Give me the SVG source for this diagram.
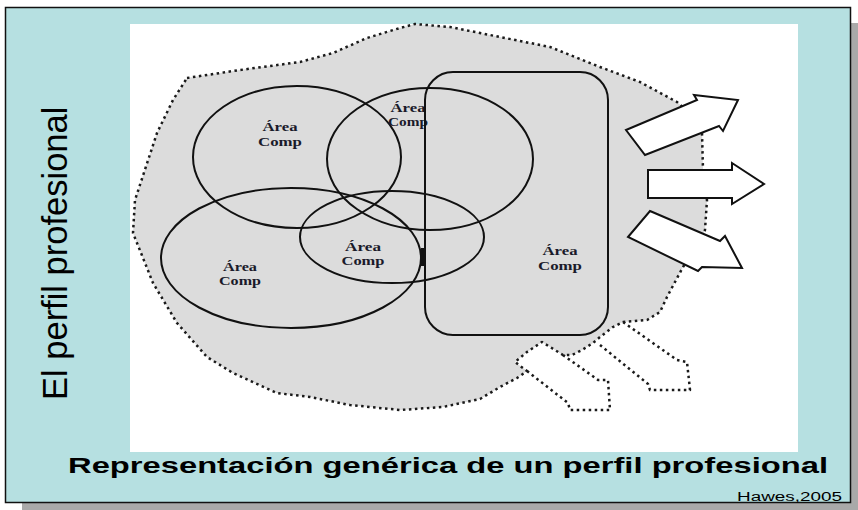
<svg xmlns="http://www.w3.org/2000/svg" width="858" height="510" viewBox="0 0 858 510">
<style>
.area{fill:none;stroke:#111;stroke-width:2}
.lbl{font-family:"Liberation Serif","Times New Roman",serif;font-weight:bold;font-size:12px;fill:#1a1a2a;text-anchor:middle}
.dot{fill:none;stroke:#1a1a1a;stroke-width:2.5;stroke-dasharray:2.5 3.5;stroke-linejoin:round}
.blob{fill:#dcdcdc;stroke:#1a1a1a;stroke-width:2.5;stroke-dasharray:2.5 3.5;stroke-linejoin:round}
.big{fill:#fff;stroke:#111;stroke-width:2;stroke-linejoin:miter}
.sans{font-family:"Liberation Sans",Arial,sans-serif;fill:#000}
</style>
<!-- frame -->
<rect x="851" y="23" width="7" height="487" fill="#a9a9a9"/>
<rect x="22" y="503" width="836" height="7" fill="#a9a9a9"/>
<rect x="5.5" y="7.5" width="845" height="495" fill="#b6e0e1" stroke="#111" stroke-width="1.5"/>
<rect x="130" y="24" width="668" height="428" fill="#fff"/>

<g id="perfil-blob">
<path class="blob" d="M187,78 L240,70 L300,62 L333,53 L367,38 L400,28 L415,24 L450,27 L500,37 L550,47 L600,67 L640,82 L677,102 L695,118 L702,133 L703,170 L705,190 L707,200 L705,230 L695,250 L683,267 L667,297 L660,312 L647,320 L623,322 L613,327 L600,337 L593,343 L582,350 L572,355 L563,355 L542,342 L527,352 L515,362 L527,371 L517,378 L500,387 L480,399 L443,407 L400,410 L350,405 L310,397 L277,393 L233,373 L207,357 L177,323 L153,283 L133,233 L135,200 L157,133 L173,100 Z"/>
</g>

<g id="input-arrows">
<path class="dot" d="M527,371 L568,403 L570,410 L610,410 L608,380 L598,380 L563,355"/>
<path class="dot" d="M600,345 L648,384 L650,390 L690,390 L687,362 L677,360 L623,322"/>
</g>

<g id="area-1">
<ellipse class="area" cx="297" cy="157" rx="104" ry="71"/>
<text class="lbl" x="280" y="131" textLength="35" lengthAdjust="spacingAndGlyphs">Área</text>
<text class="lbl" x="280" y="146" textLength="44" lengthAdjust="spacingAndGlyphs">Comp</text>
</g>
<g id="area-2">
<ellipse class="area" cx="430" cy="159" rx="103" ry="71"/>
<text class="lbl" x="408" y="112" textLength="35" lengthAdjust="spacingAndGlyphs">Área</text>
<text class="lbl" x="408" y="126" textLength="40" lengthAdjust="spacingAndGlyphs">Comp</text>
</g>
<g id="area-3">
<ellipse class="area" cx="291" cy="258" rx="130" ry="70"/>
<text class="lbl" x="240" y="271" textLength="34" lengthAdjust="spacingAndGlyphs">Área</text>
<text class="lbl" x="240" y="285" textLength="42" lengthAdjust="spacingAndGlyphs">Comp</text>
</g>
<g id="area-4">
<ellipse class="area" cx="392" cy="237" rx="92" ry="46"/>
<text class="lbl" x="363" y="251" textLength="36" lengthAdjust="spacingAndGlyphs">Área</text>
<text class="lbl" x="363" y="265" textLength="43" lengthAdjust="spacingAndGlyphs">Comp</text>
</g>
<g id="area-5">
<rect class="area" x="425" y="72" width="183" height="263" rx="28" ry="28"/>
<rect x="421" y="248" width="4" height="18" fill="#111"/>
<text class="lbl" x="560" y="255" textLength="35" lengthAdjust="spacingAndGlyphs">Área</text>
<text class="lbl" x="560" y="270" textLength="44" lengthAdjust="spacingAndGlyphs">Comp</text>
</g>

<g id="connectors">
<polygon class="big" points="626,130 697,100 694,95 738,100 723,131 719,126 645,155"/>
<polygon class="big" points="648,170 732,170 732,163 764,184 732,204 732,198 648,198"/>
<polygon class="big" points="650,211 720,241 725,236 742,268 702,267 698,271 628,237"/>
</g>

<g id="titles">
<text class="sans" transform="translate(67,400) rotate(-90)" font-size="34.5">El perfil profesional</text>
<text class="sans" x="68" y="473" font-size="22" font-weight="bold" textLength="760" lengthAdjust="spacingAndGlyphs">Representación genérica de un perfil profesional</text>
<text class="sans" x="737" y="501" font-size="12.5" textLength="105" lengthAdjust="spacingAndGlyphs">Hawes,2005</text>
</g>
</svg>
